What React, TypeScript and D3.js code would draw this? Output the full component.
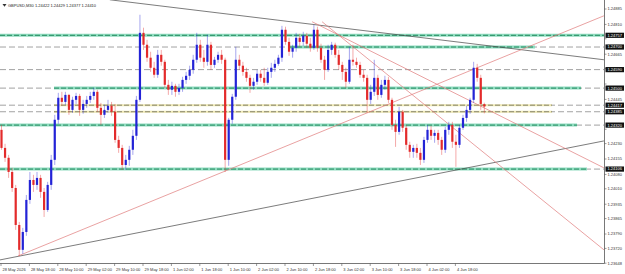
import React from 'react';
import * as d3 from 'd3';

const TITLE = 'GBPUSD,M30  1.24422 1.24429 1.24377 1.24410';

const TIME_LABELS = [
  '28 May 2026', '28 May 18:00', '28 May 10:00', '29 May 02:00', '29 May 10:00', '29 May 18:00',
  '1 Jun 02:00', '1 Jun 18:00', '1 Jun 10:00', '2 Jun 02:00', '2 Jun 10:00', '2 Jun 18:00',
  '3 Jun 02:00', '3 Jun 10:00', '3 Jun 18:00', '4 Jun 02:00', '4 Jun 18:00',
];

const PRICE_TICKS = [
  1.24885, 1.2481, 1.2474, 1.24665, 1.24595, 1.2452, 1.24445, 1.24375, 1.243, 1.2423,
  1.24155, 1.2408, 1.2401, 1.23935, 1.23865, 1.2379, 1.2372, 1.23648,
];

const OPEN = [
  1.24297, 1.24209, 1.24161, 1.24092, 1.24014, 1.23834, 1.23713, 1.238, 1.23956, 1.24053,
  1.24029, 1.24063, 1.23995, 1.23907, 1.24029, 1.24151, 1.24346, 1.24453, 1.24433, 1.24467,
  1.24394, 1.24443, 1.24462, 1.24394, 1.24423, 1.24443, 1.24462, 1.24482, 1.24404, 1.2437,
  1.24394, 1.24414, 1.24385, 1.24248, 1.24209, 1.24126, 1.24151, 1.242, 1.24268, 1.24443,
  1.24769, 1.24711, 1.24648, 1.24599, 1.24565, 1.24662, 1.24628, 1.24516, 1.24492, 1.24511,
  1.24482, 1.24501, 1.2454, 1.2456, 1.24589, 1.24638, 1.24711, 1.24648, 1.24628, 1.24711,
  1.24613, 1.24638, 1.24662, 1.24638, 1.24151, 1.24346, 1.24458, 1.24638, 1.24609, 1.24579,
  1.2455, 1.24511, 1.24531, 1.2457, 1.2455, 1.24526, 1.24579, 1.24599, 1.24618, 1.24648,
  1.24784, 1.24725, 1.24677, 1.24696, 1.24745, 1.24725, 1.24755, 1.24716, 1.24696, 1.24784,
  1.24696, 1.24638, 1.24589, 1.24686, 1.24711, 1.24662, 1.24613, 1.24579, 1.24531, 1.24638,
  1.24628, 1.24613, 1.24565, 1.2455, 1.24443, 1.24482, 1.2455, 1.24467, 1.24516, 1.2454,
  1.24443, 1.24321, 1.24287, 1.24385, 1.24307, 1.24224, 1.2419, 1.24209, 1.24185, 1.24151,
  1.24248, 1.24297, 1.24268, 1.24282, 1.24248, 1.242, 1.24297, 1.24321, 1.24239, 1.24224,
  1.24307, 1.24355, 1.24394, 1.24443, 1.24599, 1.2455, 1.24422,
];

const HIGH = [
  1.24321, 1.24229, 1.24175, 1.24112, 1.24029, 1.23849, 1.2382, 1.2398, 1.24092, 1.24078,
  1.24092, 1.24078, 1.24014, 1.24044, 1.24175, 1.2437, 1.24477, 1.24482, 1.24482, 1.24472,
  1.24458, 1.24477, 1.24472, 1.24443, 1.24462, 1.24482, 1.24501, 1.24492, 1.24428, 1.24419,
  1.24443, 1.24433, 1.24423, 1.24268, 1.24224, 1.24175, 1.24219, 1.24297, 1.24462, 1.24857,
  1.24794, 1.24735, 1.24677, 1.24628, 1.24686, 1.24686, 1.24638, 1.2454, 1.24531, 1.24521,
  1.24521, 1.24555, 1.24579, 1.24609, 1.24662, 1.24769, 1.24735, 1.24686, 1.2476, 1.24725,
  1.24652, 1.24677, 1.24686, 1.24648, 1.24355, 1.24472, 1.24701, 1.24662, 1.24628, 1.24599,
  1.24565, 1.2455, 1.24589, 1.24589, 1.24599, 1.24599, 1.24623, 1.24638, 1.24662, 1.24803,
  1.24799, 1.24745, 1.24711, 1.24769, 1.24764, 1.24774, 1.24769, 1.24745, 1.24808, 1.24799,
  1.24716, 1.24657, 1.24711, 1.24725, 1.24721, 1.24686, 1.24628, 1.24599, 1.24701, 1.24711,
  1.24648, 1.24628, 1.24589, 1.24565, 1.24516, 1.24638, 1.24565, 1.2454, 1.2456, 1.24555,
  1.24453, 1.24346, 1.24409, 1.24394, 1.24321, 1.24239, 1.24224, 1.24229, 1.24209, 1.24263,
  1.24321, 1.24316, 1.24297, 1.24297, 1.24263, 1.24312, 1.24336, 1.24336, 1.24273, 1.24321,
  1.2437, 1.24414, 1.24453, 1.24628, 1.24618, 1.24565, 1.24429,
];

const LOW = [
  1.242, 1.24141, 1.24063, 1.23995, 1.2381, 1.23683, 1.23693, 1.23781, 1.23937, 1.23995,
  1.24005, 1.23966, 1.23873, 1.23898, 1.24005, 1.24126, 1.24326, 1.24414, 1.24419, 1.2437,
  1.2438, 1.24423, 1.24365, 1.24375, 1.24404, 1.24428, 1.24443, 1.24385, 1.24321, 1.24355,
  1.2438, 1.24365, 1.24234, 1.24185, 1.24102, 1.24102, 1.24122, 1.24175, 1.24248, 1.24433,
  1.24686, 1.24628, 1.24579, 1.2455, 1.2455, 1.24609, 1.24501, 1.24467, 1.24467, 1.24458,
  1.24467, 1.24482, 1.24521, 1.2454, 1.2457, 1.24623, 1.24628, 1.24599, 1.24609, 1.24589,
  1.24599, 1.24623, 1.24618, 1.24092, 1.24122, 1.24326, 1.24443, 1.24589, 1.2456, 1.24531,
  1.24477, 1.24492, 1.24516, 1.24531, 1.24511, 1.24516, 1.2455, 1.24579, 1.24609, 1.24628,
  1.24711, 1.24657, 1.24648, 1.24677, 1.24701, 1.24706, 1.24696, 1.24677, 1.24686, 1.24677,
  1.24623, 1.2454, 1.24579, 1.24662, 1.24648, 1.24589, 1.2454, 1.24501, 1.24521, 1.24609,
  1.24599, 1.2455, 1.24531, 1.2438, 1.24423, 1.24462, 1.24443, 1.24453, 1.24492, 1.24428,
  1.24297, 1.24214, 1.24273, 1.24287, 1.242, 1.24161, 1.24161, 1.24161, 1.24126, 1.24136,
  1.24234, 1.24248, 1.24234, 1.24224, 1.24175, 1.24185, 1.24273, 1.24209, 1.24117, 1.24209,
  1.24297, 1.24336, 1.24375, 1.24428, 1.24531, 1.24394, 1.24377,
];

const CLOSE = [
  1.24209, 1.24161, 1.24092, 1.24014, 1.23834, 1.23713, 1.238, 1.23956, 1.24053, 1.24029,
  1.24063, 1.23995, 1.23907, 1.24029, 1.24151, 1.24346, 1.24453, 1.24433, 1.24467, 1.24394,
  1.24443, 1.24462, 1.24394, 1.24423, 1.24443, 1.24462, 1.24482, 1.24404, 1.2437, 1.24394,
  1.24414, 1.24385, 1.24248, 1.24209, 1.24126, 1.24151, 1.242, 1.24268, 1.24443, 1.24769,
  1.24711, 1.24648, 1.24599, 1.24565, 1.24662, 1.24628, 1.24516, 1.24492, 1.24511, 1.24482,
  1.24501, 1.2454, 1.2456, 1.24589, 1.24638, 1.24711, 1.24648, 1.24628, 1.24711, 1.24613,
  1.24638, 1.24662, 1.24638, 1.24151, 1.24346, 1.24458, 1.24638, 1.24609, 1.24579, 1.2455,
  1.24511, 1.24531, 1.2457, 1.2455, 1.24526, 1.24579, 1.24599, 1.24618, 1.24648, 1.24784,
  1.24725, 1.24677, 1.24696, 1.24745, 1.24725, 1.24755, 1.24716, 1.24696, 1.24784, 1.24696,
  1.24638, 1.24589, 1.24686, 1.24711, 1.24662, 1.24613, 1.24579, 1.24531, 1.24638, 1.24628,
  1.24613, 1.24565, 1.2455, 1.24443, 1.24482, 1.2455, 1.24467, 1.24516, 1.2454, 1.24443,
  1.24321, 1.24287, 1.24385, 1.24307, 1.24224, 1.2419, 1.24209, 1.24185, 1.24151, 1.24248,
  1.24297, 1.24268, 1.24282, 1.24248, 1.242, 1.24297, 1.24321, 1.24239, 1.24224, 1.24307,
  1.24355, 1.24394, 1.24443, 1.24599, 1.2455, 1.24423, 1.2441,
];

// horizontal levels (price) and their kind
const LEVEL_PRICES = [1.24757, 1.247, 1.2459, 1.245, 1.24417, 1.24385, 1.2432, 1.24106];
const LEVEL_KINDS = ['green', 'green', 'gray', 'green', 'olive', 'olive', 'green', 'green'];

// trend lines: [bar index 1, price 1, bar index 2, price 2]
const TREND_BLACK = [
  [30.5, 1.2493, 169.7, 1.24638],
  [-0.42, 1.23664, 169.7, 1.24243],
];
const TREND_RED = [
  [4.65, 1.23683, 169.7, 1.24852],
  [87.5, 1.24823, 169.7, 1.24112],
  [90.3, 1.24823, 169.7, 1.23713],
];

const W = 625;
const H = 274;
const PR = 604; // plot right edge
const PB = 263; // plot bottom edge
const FONT = 'Liberation Sans, Arial, sans-serif';

// horizontal extents (px) of coloured bands, by level index
const BAND_SPANS: Record<number, [number, number]> = {
  0: [0, 604],
  1: [290, 535],
  3: [54, 581],
  4: [54, 552],
  5: [54, 552],
  6: [0, 577],
  7: [0, 587],
};

export default function App() {
  const n = CLOSE.length;
  const x = d3.scaleLinear().domain([0, n - 1]).range([1.5, 484.3]);
  const y = d3.scaleLinear().domain([1.23648, 1.24885]).range([263.2, 9]);
  const bodyW = 2.2;

  const bull = '#2323d6';
  const bear = '#e32b2b';

  const levelYs = LEVEL_PRICES.map((p) => y(p));
  const visibleTicks = PRICE_TICKS.filter((p) => levelYs.every((ly) => Math.abs(ly - y(p)) > 4.6));

  return (
    <svg
      width={W}
      height={H}
      viewBox={`0 0 ${W} ${H}`}
      style={{ position: 'fixed', left: 0, top: 0, background: '#fff', fontFamily: FONT }}
    >
      <defs>
        <clipPath id="plot">
          <rect x={0} y={0} width={PR} height={PB} />
        </clipPath>
      </defs>
      <rect x={0} y={0} width={W} height={H} fill="#fff" />

      <g clipPath="url(#plot)">
        {/* gray dashed level lines */}
        {LEVEL_PRICES.map((p, k) => (
          <line
            key={'g' + k}
            x1={0}
            x2={PR}
            y1={y(p)}
            y2={y(p)}
            stroke="#8a8a8a"
            strokeWidth={0.8}
            strokeDasharray="6,3"
          />
        ))}
        {/* coloured bands */}
        {LEVEL_PRICES.map((p, k) => {
          const span = BAND_SPANS[k];
          if (!span) return null;
          const kind = LEVEL_KINDS[k];
          const yy = y(p);
          const light = kind === 'olive' ? '#efe9b4' : '#8fdcbf';
          const dark = kind === 'olive' ? '#6a6a55' : '#238a5f';
          return (
            <g key={'b' + k}>
              <line
                x1={span[0]}
                x2={span[1]}
                y1={yy}
                y2={yy}
                stroke={light}
                strokeWidth={kind === 'olive' ? 2 : 3}
              />
              <line
                x1={span[0]}
                x2={span[1]}
                y1={yy}
                y2={yy}
                stroke={dark}
                strokeWidth={kind === 'olive' ? 0.8 : 1}
                strokeDasharray="5,2"
              />
            </g>
          );
        })}

        {/* trend lines */}
        {TREND_BLACK.map((t, k) => (
          <line
            key={'tb' + k}
            x1={x(t[0])}
            y1={y(t[1])}
            x2={x(t[2])}
            y2={y(t[3])}
            stroke="#444"
            strokeWidth={0.7}
          />
        ))}
        {TREND_RED.map((t, k) => (
          <line
            key={'tr' + k}
            x1={x(t[0])}
            y1={y(t[1])}
            x2={x(t[2])}
            y2={y(t[3])}
            stroke="#e07a7a"
            strokeWidth={0.7}
          />
        ))}

        {/* candles */}
        {CLOSE.map((c, i) => {
          const o = OPEN[i];
          const up = c >= o;
          const col = up ? bull : bear;
          const cx = x(i);
          const top = y(Math.max(o, c));
          const bot = y(Math.min(o, c));
          return (
            <g key={'c' + i}>
              <line
                x1={cx}
                x2={cx}
                y1={y(HIGH[i])}
                y2={y(LOW[i])}
                stroke={col}
                strokeOpacity={0.45}
                strokeWidth={0.9}
              />
              <rect
                x={cx - bodyW / 2}
                y={top}
                width={bodyW}
                height={Math.max(0.8, bot - top)}
                fill={col}
              />
            </g>
          );
        })}
      </g>

      {/* axes frame */}
      <line x1={PR + 0.5} x2={PR + 0.5} y1={0} y2={PB + 0.5} stroke="#555" strokeWidth={0.8} />
      <line x1={0} x2={PR + 0.5} y1={PB + 0.5} y2={PB + 0.5} stroke="#555" strokeWidth={0.8} />

      {/* price ticks */}
      {PRICE_TICKS.map((p, k) => (
        <line
          key={'ptl' + k}
          x1={PR + 0.5}
          x2={PR + 2.5}
          y1={y(p)}
          y2={y(p)}
          stroke="#555"
          strokeWidth={0.6}
        />
      ))}
      {visibleTicks.map((p, k) => (
        <text key={'pt' + k} x={PR + 3.5} y={y(p) + 1.4} fontSize={4} fill="#333">
          {p.toFixed(5)}
        </text>
      ))}

      {/* highlighted level labels */}
      {LEVEL_PRICES.map((p, k) => (
        <g key={'hl' + k}>
          <rect x={PR + 1.5} y={y(p) - 2.6} width={18.5} height={5.2} fill="#111" />
          <text x={PR + 3.5} y={y(p) + 1.4} fontSize={4} fill="#fff">
            {p.toFixed(5)}
          </text>
        </g>
      ))}

      {/* time labels */}
      {TIME_LABELS.map((t, k) => {
        const xx = x(k * 8) - 0.5;
        return (
          <g key={'tl' + k}>
            <line x1={xx} x2={xx} y1={PB + 0.5} y2={PB + 3} stroke="#555" strokeWidth={0.6} />
            <text x={xx + 1.5} y={271} fontSize={4} fill="#333">
              {t}
            </text>
          </g>
        );
      })}

      {/* title */}
      <path d="M2.5,4 L6.5,4 L4.5,6.8 Z" fill="#333" />
      <text x={8} y={6.6} fontSize={4} fill="#222">
        {TITLE}
      </text>
    </svg>
  );
}
